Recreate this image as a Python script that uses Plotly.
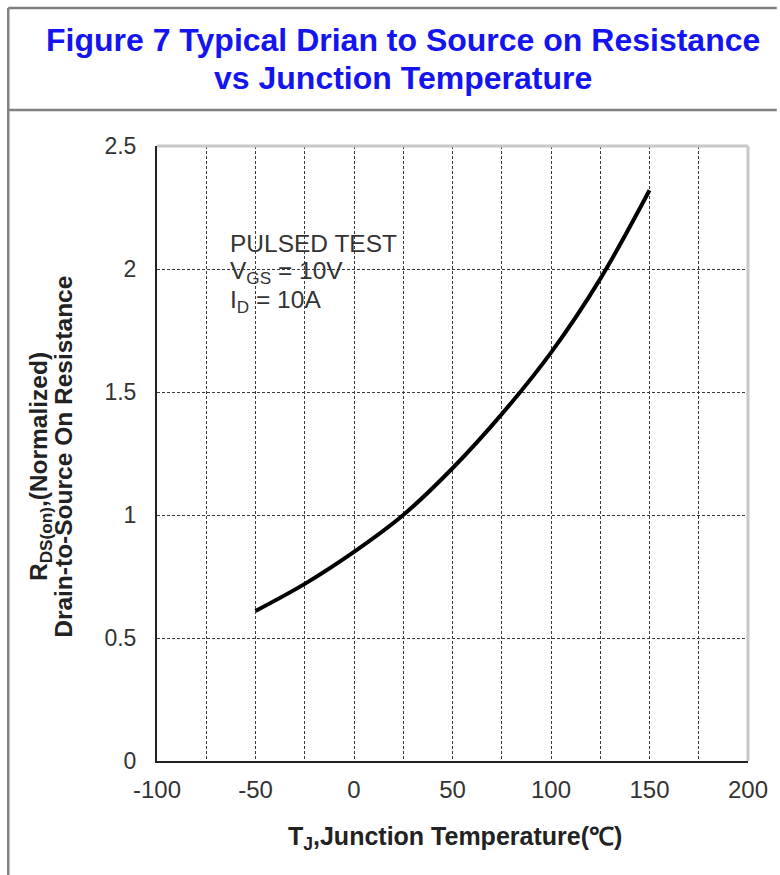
import plotly.graph_objects as go

# ---- data ----
temp_c = [-50, -25, 0, 25, 50, 75, 100, 125, 150]
rds_norm = [0.61, 0.72, 0.85, 1.00, 1.19, 1.41, 1.66, 1.96, 2.32]

x_ticks = [-100, -50, 0, 50, 100, 150, 200]
x_tick_labels = ["-100", "-50", "0", "50", "100", "150", "200"]
x_minor_ticks = [-75, -25, 25, 75, 125, 175]
y_ticks = [0, 0.5, 1, 1.5, 2, 2.5]
y_tick_labels = ["0", "0.5", "1", "1.5", "2", "2.5"]

title_lines = ["Figure 7 Typical Drian to Source on Resistance", "vs Junction Temperature"]
note_lines = ["PULSED TEST", "V<sub>GS</sub> = 10V", "I<sub>D</sub> = 10A"]
x_title = "T<sub>J</sub>,Junction Temperature(\u2103)"
y_title_lines = ["R<sub>DS(on)</sub>,(Normalized)", "Drain-to-Source On Resistance"]

# ---- layout geometry (pixels) ----
W, H = 780, 875
L, R, T, B = 157, 27, 146, 114
PW, PH = W - L - R, H - T - B


def px(xp):
    return (xp - L) / PW


def py(yp):
    return (H - B - yp) / PH


FONT = "Liberation Sans, Arial, sans-serif"

fig = go.Figure()
fig.add_trace(go.Scatter(
    x=temp_c, y=rds_norm, mode="lines",
    line=dict(color="black", width=4, shape="spline", smoothing=1.0),
    showlegend=False, hoverinfo="skip",
))

GRID_COLOR = "#3a3a3a"
GRID_DASH = "3px,2px"

fig.update_layout(
    width=W, height=H, autosize=False,
    margin=dict(l=L, r=R, t=T, b=B, pad=0),
    paper_bgcolor="white", plot_bgcolor="white",
    font=dict(family=FONT, color="#222222"),
    xaxis=dict(
        range=[-100, 200], tickvals=x_ticks, ticktext=x_tick_labels,
        showline=True, linecolor="#222222", linewidth=2, zeroline=False,
        ticks="", tickfont=dict(size=24, color="#333333"), ticklabelstandoff=6,
        showgrid=True, gridcolor=GRID_COLOR, gridwidth=1.2, griddash=GRID_DASH,
        minor=dict(tickvals=x_minor_ticks, showgrid=True, gridcolor=GRID_COLOR,
                   gridwidth=1.2, griddash=GRID_DASH, ticks=""),
    ),
    yaxis=dict(
        range=[0, 2.5], tickvals=y_ticks, ticktext=y_tick_labels,
        showline=True, linecolor="#222222", linewidth=2, zeroline=False,
        ticks="", tickfont=dict(size=23, color="#333333"), ticklabelstandoff=14,
        showgrid=True, gridcolor=GRID_COLOR, gridwidth=1.2, griddash=GRID_DASH,
    ),
)

shapes = []
# white box behind the test-condition note
shapes.append(dict(type="rect", xref="paper", yref="paper",
                   x0=px(223), x1=px(420), y0=py(343), y1=py(222),
                   fillcolor="white", line=dict(width=0), layer="between"))
# light grey top/right frame of plot
shapes.append(dict(type="line", xref="paper", yref="paper", x0=0, x1=1, y0=1, y1=1,
                   line=dict(color="#c8c8c8", width=3), layer="above"))
shapes.append(dict(type="line", xref="paper", yref="paper", x0=1, x1=1, y0=0, y1=1,
                   line=dict(color="#c8c8c8", width=3), layer="above"))
# outer figure border and title separator
border = dict(color="#808080", width=2.5)
shapes.append(dict(type="line", xref="paper", yref="paper", x0=px(7), x1=px(7),
                   y0=py(H + 2), y1=py(8), line=border, layer="above"))
shapes.append(dict(type="line", xref="paper", yref="paper", x0=px(7), x1=px(W + 2),
                   y0=py(8), y1=py(8), line=border, layer="above"))
shapes.append(dict(type="line", xref="paper", yref="paper", x0=px(7), x1=px(W + 2),
                   y0=py(110), y1=py(110), line=border, layer="above"))
fig.update_layout(shapes=shapes)

ann = []
# title lines
for text, yc in zip(title_lines, [40.5, 78.5]):
    ann.append(dict(text="<b>" + text + "</b>", xref="paper", yref="paper",
                    x=px(405), y=py(yc), xanchor="center", yanchor="middle",
                    showarrow=False, font=dict(family=FONT, size=32, color="#1414f0")))
# note lines
for text, yc in zip(note_lines, [243.5, 272.5, 301.5]):
    ann.append(dict(text=text, xref="paper", yref="paper",
                    x=px(229), y=py(yc), xanchor="left", yanchor="middle",
                    showarrow=False, font=dict(family=FONT, size=24.5, color="#333333")))
# x axis title
ann.append(dict(text="<b>" + x_title + "</b>", xref="paper", yref="paper",
                x=px(458), y=py(838), xanchor="center", yanchor="middle",
                showarrow=False, font=dict(family=FONT, size=25, color="#222222")))
# y axis title (two rotated lines)
for text, xc, yc in zip(y_title_lines, [40, 63], [466, 457]):
    ann.append(dict(text="<b>" + text + "</b>", xref="paper", yref="paper",
                    x=px(xc), y=py(yc), xanchor="center", yanchor="middle",
                    textangle=-90, showarrow=False,
                    font=dict(family=FONT, size=24.5, color="#222222")))
fig.update_layout(annotations=ann)

fig.write_html("out.html",
               config={"displayModeBar": False},
               post_script="document.body.style.margin='0';document.body.style.overflow='hidden';")
